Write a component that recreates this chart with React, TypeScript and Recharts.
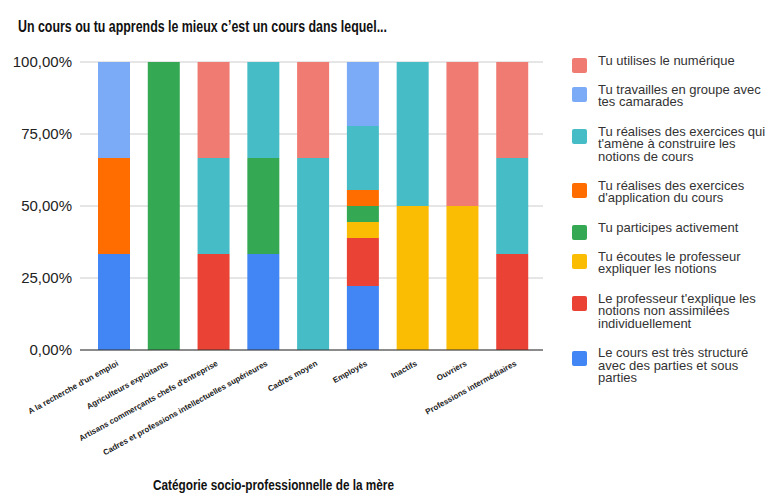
import React from "react";
import { BarChart, Bar, XAxis, YAxis, CartesianGrid } from "recharts";

const categories = [
  "A la recherche d'un emploi",
  "Agriculteurs exploitants",
  "Artisans commerçants chefs d'entreprise",
  "Cadres et professions intellectuelles supérieures",
  "Cadres moyen",
  "Employés",
  "Inactifs",
  "Ouvriers",
  "Professions intermédiaires",
];

// Percentages per category (stack order bottom -> top)
const structure = [33.33, 0, 0, 33.33, 0, 22.22, 0, 0, 0];
const explique = [0, 0, 33.33, 0, 0, 16.67, 0, 0, 33.33];
const ecoutes = [0, 0, 0, 0, 0, 5.56, 50, 50, 0];
const participes = [0, 100, 0, 33.33, 0, 5.56, 0, 0, 0];
const application = [33.33, 0, 0, 0, 0, 5.56, 0, 0, 0];
const construire = [0, 0, 33.33, 33.33, 66.67, 22.22, 50, 0, 33.33];
const groupe = [33.33, 0, 0, 0, 0, 22.22, 0, 0, 0];
const numerique = [0, 0, 33.33, 0, 33.33, 0, 0, 50, 33.33];

const yTicks = [0, 0.25, 0.5, 0.75, 1];

const title = "Un cours ou tu apprends le mieux c’est un cours dans lequel...";
const xTitle = "Catégorie socio-professionnelle de la mère";

const series = [
  { key: "structure", values: structure, name: "Le cours est très structuré avec des parties et sous parties", color: "#4285F4" },
  { key: "explique", values: explique, name: "Le professeur t'explique les notions non assimilées individuellement", color: "#EA4335" },
  { key: "ecoutes", values: ecoutes, name: "Tu écoutes le professeur expliquer les notions", color: "#FBBC04" },
  { key: "participes", values: participes, name: "Tu participes activement", color: "#34A853" },
  { key: "application", values: application, name: "Tu réalises des exercices d'application du cours", color: "#FF6D01" },
  { key: "construire", values: construire, name: "Tu réalises des exercices qui t'amène à construire les notions de cours", color: "#46BDC6" },
  { key: "groupe", values: groupe, name: "Tu travailles en groupe avec tes camarades", color: "#7BAAF7" },
  { key: "numerique", values: numerique, name: "Tu utilises le numérique", color: "#F07B72" },
];

const data = categories.map((name, i) => {
  const row: Record<string, string | number> = { name };
  series.forEach((s) => {
    row[s.key] = s.values[i];
  });
  return row;
});

const FONT = "'Liberation Sans', Arial, sans-serif";
const NARROW = "'Liberation Sans Narrow', 'Arial Narrow', 'Liberation Sans', Arial, sans-serif";

const fmt = (v: number) => (v * 100).toFixed(2).replace(".", ",") + "%";

const XTick = (props: any) => {
  const { x, payload } = props;
  return (
    <g transform={`translate(${x + 5},${365})`}>
      <text
        transform="rotate(-29)"
        textAnchor="end"
        fontSize={8}
        fontWeight="bold"
        fontFamily={FONT}
        fill="#222"
      >
        {payload.value}
      </text>
    </g>
  );
};

export default function App() {
  const legendItems = [...series].reverse();
  return (
    <div style={{ position: "absolute", left: 0, top: 0, width: 767, height: 493, background: "#fff", fontFamily: FONT }}>
      <BarChart
        width={767}
        height={493}
        data={data}
        stackOffset="expand"
        margin={{ top: 62, right: 224, bottom: 13, left: 0 }}
      >
        <CartesianGrid vertical={false} stroke="#cccccc" />
        <XAxis
          dataKey="name"
          height={130}
          interval={0}
          tickLine={false}
          axisLine={{ stroke: "#333333" }}
          padding={{ left: 9, right: 6 }}
          tick={<XTick />}
        />
        <YAxis
          width={80}
          domain={[0, 1]}
          ticks={yTicks}
          tickFormatter={fmt}
          axisLine={false}
          tickLine={false}
          tick={{ fontSize: 15, fill: "#222", fontFamily: FONT }}
        />
        {series.map((s) => (
          <Bar key={s.key} dataKey={s.key} name={s.name} stackId="a" fill={s.color} barSize={32} isAnimationActive={false} />
        ))}
      </BarChart>
      <svg width={767} height={493} style={{ position: "absolute", left: 0, top: 0, pointerEvents: "none" }}>
        <text x={18} y={31.5} fontSize={16.5} fontWeight="bold" fontFamily={NARROW} fill="#111" textLength={369} lengthAdjust="spacingAndGlyphs">
          {title}
        </text>
        <text x={153} y={490} fontSize={15} fontWeight="bold" fontFamily={NARROW} fill="#111" textLength={241} lengthAdjust="spacingAndGlyphs">
          {xTitle}
        </text>
      </svg>
      <div style={{ position: "absolute", left: 572, top: 54.5, width: 195, display: "flex", flexDirection: "column", gap: 16.8 }}>
        {legendItems.map((s) => (
          <div key={s.key} style={{ position: "relative", paddingLeft: 26 }}>
            <div style={{ position: "absolute", left: 0, top: 3.5, width: 15, height: 15, borderRadius: 2, background: s.color }} />
            <div style={{ width: 169, fontSize: 13, lineHeight: "12.5px", color: "#333", fontFamily: FONT }}>{s.name}</div>
          </div>
        ))}
      </div>
    </div>
  );
}
